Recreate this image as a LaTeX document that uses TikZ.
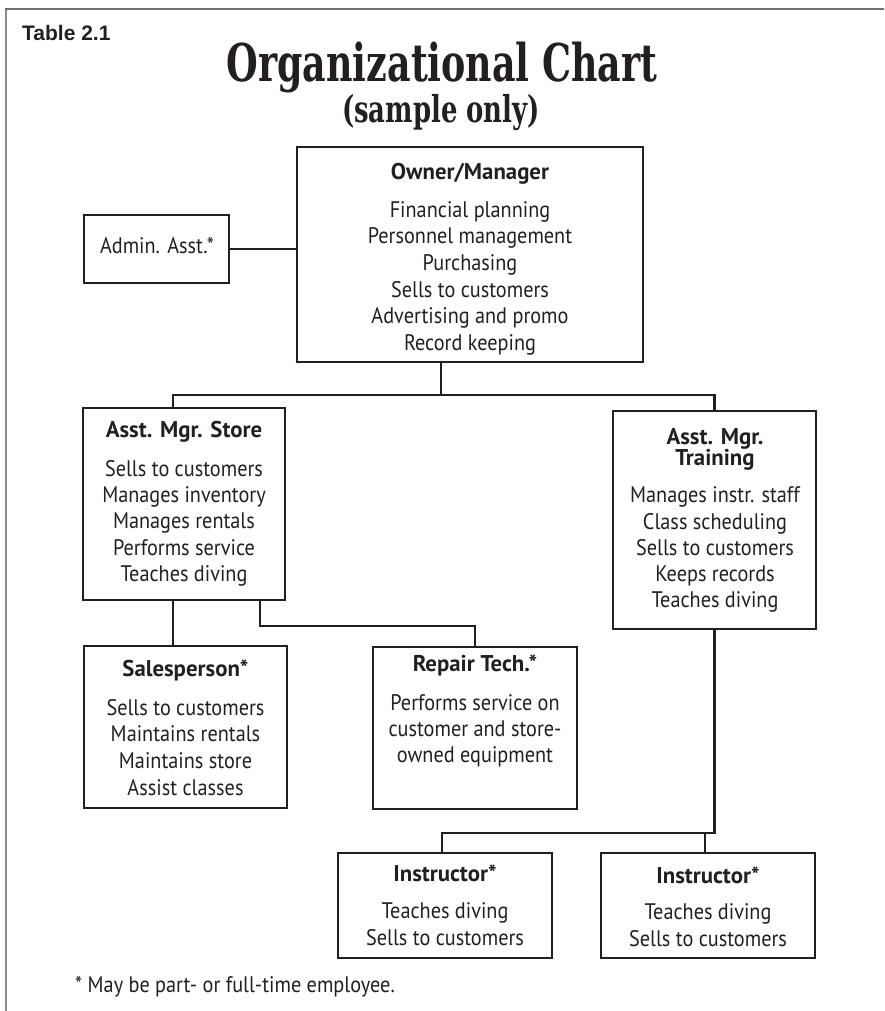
\documentclass[tikz,border=0pt]{standalone}
\usepackage{fontspec}
\setmainfont{PT Sans}[FakeStretch=0.9]
\newfontfamily\hdfam{PT Sans}
\newfontfamily\titlefam[FakeStretch=0.7]{DejaVu Serif}
\newfontfamily\tabfam{Liberation Sans}
\definecolor{ink}{HTML}{231F20}
\definecolor{framegray}{HTML}{707070}
\definecolor{framelight}{HTML}{8C8C8C}
\newcommand\myhd{\hdfam\fontsize{22.8}{22.8}\selectfont\bfseries}
\newcommand\mybd{\fontsize{22.5}{26}\selectfont}
\begin{document}
\begin{tikzpicture}[x=1pt,y=-1pt,
  box/.style={draw=ink, line width=2.4pt, inner sep=0pt, outer sep=0pt, rectangle},
  conn/.style={draw=ink, line width=2.3pt},
  hd/.style={font=\myhd, text=ink, anchor=base, inner sep=0pt},
  bd/.style={font=\mybd, text=ink, anchor=base, inner sep=0pt},
  frametop/.style={draw=framegray, line width=1.8pt},
  frameleft/.style={draw=framelight, line width=1.5pt}]
\useasboundingbox (0,0) rectangle (884,1011);
% frame
\coordinate (fTL) at (6,9);
\coordinate (fTR) at (884,9);
\coordinate (fBL) at (6,1011);
\draw[frameleft] (fBL) -- (fTL);
\draw[frametop] ([xshift=-0.75pt]fTL) -- (fTR);
% headings
\node[anchor=base west, inner sep=0pt, text=ink, font=\tabfam\bfseries\fontsize{21}{21}\selectfont] (tab) at (22,41) {Table 2.1};
\node[anchor=base, inner sep=0pt, text=ink, font=\titlefam\bfseries\fontsize{52}{52}\selectfont] (title) at (442,82) {Organizational Chart};
\node[anchor=base, inner sep=0pt, text=ink, font=\titlefam\bfseries\fontsize{37}{37}\selectfont] (sub) at (441,123) {(sample only)};
% boxes
\node[box, minimum width=346pt, minimum height=215pt] (owner) at (470,254.5) {};
\node[box, minimum width=145pt, minimum height=68pt] (admin) at (156.5,249) {};
\node[box, minimum width=202pt, minimum height=192pt] (store) at (184,504) {};
\node[box, minimum width=203pt, minimum height=218pt] (train) at (714.5,520) {};
\node[box, minimum width=203pt, minimum height=162pt] (sales) at (185.5,727) {};
\node[box, minimum width=204pt, minimum height=162pt] (repair) at (475,728) {};
\node[box, minimum width=214pt, minimum height=105pt] (inst1) at (445,905.5) {};
\node[box, minimum width=214pt, minimum height=105pt] (inst2) at (708,905.5) {};
% owner text
\node[hd] (ownerT) at (470,180) {Owner/Manager};
\foreach \t [count=\i] in {Financial planning,Personnel management,Purchasing,Sells to customers,Advertising and promo,Record keeping}
  \node[bd] (ownerL\i) at (470,{217.3+26.6*(\i-1)}) {\t};
% admin text
\node[bd] (adminT) at (157,253) {Admin. Asst.*};
% store text
\node[hd] (storeT) at (184,437.7) {Asst. Mgr. Store};
\foreach \t [count=\i] in {Sells to customers,Manages inventory,Manages rentals,Performs service,Teaches diving}
  \node[bd] (storeL\i) at (184,{476+26.4*(\i-1)}) {\t};
% training text
\node[hd] (trainT1) at (715,444.5) {Asst. Mgr.};
\node[hd] (trainT2) at (715,465.2) {Training};
\foreach \t [count=\i] in {Manages instr. staff,Class scheduling,Sells to customers,Keeps records,Teaches diving}
  \node[bd] (trainL\i) at (715,{502.7+26.3*(\i-1)}) {\t};
% salesperson text
\node[hd] (salesT) at (185.5,676.7) {Salesperson*};
\foreach \t [count=\i] in {Sells to customers,Maintains rentals,Maintains store,Assist classes}
  \node[bd] (salesL\i) at (185.5,{715+26.7*(\i-1)}) {\t};
% repair text
\node[hd] (repairT) at (475,671.7) {Repair Tech.*};
\foreach \t [count=\i] in {Performs service on,customer and store-,owned equipment}
  \node[bd] (repairL\i) at (475,{710+26*(\i-1)}) {\t};
% instructors
\node[hd] (inst1T) at (445,881.7) {Instructor*};
\node[bd] (inst1L1) at (445,918) {Teaches diving};
\node[bd] (inst1L2) at (445,945) {Sells to customers};
\node[hd] (inst2T) at (708,883) {Instructor*};
\node[bd] (inst2L1) at (708,919) {Teaches diving};
\node[bd] (inst2L2) at (708,946) {Sells to customers};
% footnote
\node[anchor=base west, inner sep=0pt, text=ink, font=\mybd] (foot) at (75,992) {* May be part- or full-time employee.};
% connectors
\coordinate (bus) at (441,395);
\coordinate (rj) at (260,626);
\coordinate (ij) at (0,833);
\draw[conn] (admin.east) -- (admin.east -| owner.west);
\draw[conn] (owner.south -| bus) -- (bus);
\draw[conn] ([xshift=-11pt]store.north) |- (bus) -| (train.north);
\draw[conn] ([xshift=-11pt]store.south) -- ([xshift=-11pt]store.south |- sales.north);
\draw[conn] (rj |- store.south) -- (rj) -| (repair.north);
\draw[conn] (train.south) |- ([xshift=-3pt]inst1.north |- ij) -- ([xshift=-3pt]inst1.north);
\draw[conn] ([xshift=-3pt]inst2.north) -- ([xshift=-3pt]inst2.north |- ij);
\end{tikzpicture}
\end{document}
